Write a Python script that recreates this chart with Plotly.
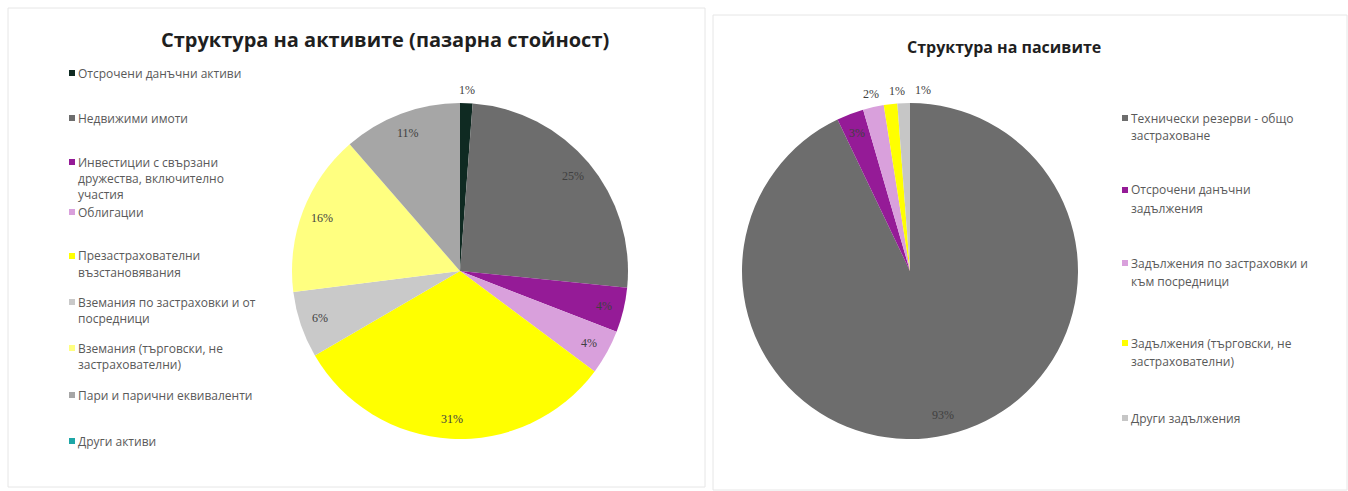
import math
import plotly.graph_objects as go

W, H = 1348, 491

# ---------------- data ----------------
assets_title = "Структура на активите (пазарна стойност)"
assets_labels = [
    "Отсрочени данъчни активи",
    "Недвижими имоти",
    "Инвестиции с свързани<br>дружества, включително<br>участия",
    "Облигации",
    "Презастрахователни<br>възстановявания",
    "Вземания по застраховки и от<br>посредници",
    "Вземания (търговски, не<br>застрахователни)",
    "Пари и парични еквиваленти",
    "Други активи",
]
assets_values = [1.2, 25.4, 4.3, 4.3, 31.4, 6.4, 15.6, 11.4, 0.0]
assets_colors = ["#0f2a22", "#6d6d6d", "#951b97", "#d9a0dc", "#ffff00",
                 "#c9c9c9", "#ffff80", "#a6a6a6", "#1ea6a6"]

liab_title = "Структура на пасивите"
liab_labels = [
    "Технически резерви - общо<br>застраховане",
    "Отсрочени данъчни<br>задължения",
    "Задължения по застраховки и<br>към посредници",
    "Задължения (търговски, не<br>застрахователни)",
    "Други задължения",
]
liab_values = [92.9, 2.6, 2.0, 1.3, 1.2]
liab_colors = ["#6d6d6d", "#951b97", "#d9a0dc", "#ffff00", "#c6c6c6"]

# ---------------- helpers ----------------
def px(x):
    return x / W

def py(y):
    return 1 - y / H

def domain(cx, cy, r):
    return dict(x=[px(cx - r), px(cx + r)], y=[py(cy + r), py(cy - r)])

FONT = "Open Sans"
LABEL_FONT = dict(family="Liberation Serif", size=12, color="#404040")
annotations = []
shapes = []

def add_pie(values, labels, colors, cx, cy, R):
    idx = [i for i, v in enumerate(values) if v > 0]
    vals = [values[i] for i in idx]
    fig.add_trace(go.Pie(
        labels=[labels[i] for i in idx],
        values=vals,
        marker=dict(colors=[colors[i] for i in idx], line=dict(width=0)),
        sort=False, direction="clockwise", rotation=0,
        domain=domain(cx, cy, R),
        textinfo="none",
        showlegend=False, hoverinfo="label+percent",
    ))
    # data labels placed from the cumulative shares
    total = sum(vals)
    cum = 0.0
    last_out_x = None
    for v in vals:
        frac = v / total
        mid = cum + frac / 2
        cum += frac
        th = 2 * math.pi * mid
        inside = frac >= 0.025
        r = 0.88 * R if inside else R + 13
        x = cx + r * math.sin(th)
        y = cy - r * math.cos(th)
        if not inside:
            if last_out_x is not None and x < last_out_x + 26:
                x = last_out_x + 26
            last_out_x = x
        annotations.append(dict(text=f"{round(frac * 100):.0f}%", x=px(x), y=py(y),
                                xref="paper", yref="paper", showarrow=False,
                                xanchor="center", yanchor="middle",
                                font=LABEL_FONT))

fig = go.Figure()
add_pie(assets_values, assets_labels, assets_colors, 460, 271, 168)
add_pie(liab_values, liab_labels, liab_colors, 910, 271, 168)

# panel borders
shapes.append(dict(type="rect", xref="paper", yref="paper",
                   x0=px(8), x1=px(705), y0=py(487), y1=py(8),
                   line=dict(color="#e6e6e6", width=1)))
shapes.append(dict(type="rect", xref="paper", yref="paper",
                   x0=px(713), x1=px(1347), y0=py(490), y1=py(15),
                   line=dict(color="#e6e6e6", width=1)))

# titles
annotations.append(dict(text="<b>" + assets_title + "</b>", x=px(385), y=py(40),
                        xref="paper", yref="paper", showarrow=False,
                        xanchor="center", yanchor="middle",
                        font=dict(family=FONT, size=20, color="#1f1f1f")))
annotations.append(dict(text="<b>" + liab_title + "</b>", x=px(1004), y=py(47),
                        xref="paper", yref="paper", showarrow=False,
                        xanchor="center", yanchor="middle",
                        font=dict(family=FONT, size=16, color="#1f1f1f")))

def legend(labels, colors, x_mark, x_text, ys, line_gap):
    for lab, col, y0 in zip(labels, colors, ys):
        shapes.append(dict(type="rect", xref="paper", yref="paper",
                           x0=px(x_mark), x1=px(x_mark + 6),
                           y0=py(y0 + 3), y1=py(y0 - 3),
                           fillcolor=col, line=dict(width=0)))
        for k, line in enumerate(lab.split("<br>")):
            annotations.append(dict(text=line, x=px(x_text), y=py(y0 + k * line_gap),
                                    xref="paper", yref="paper", showarrow=False,
                                    xanchor="left", yanchor="middle",
                                    borderpad=0,
                                    font=dict(family=FONT, size=12, color="#595959")))

legend(assets_labels, assets_colors, 69, 77,
       [73, 118, 162, 212, 256, 302, 348, 395, 441], 16)
legend(liab_labels, liab_colors, 1122, 1130,
       [118, 190, 263, 343, 418], 18)

fig.update_layout(
    width=W, height=H,
    margin=dict(l=0, r=0, t=0, b=0),
    paper_bgcolor="white", plot_bgcolor="white",
    annotations=annotations, shapes=shapes,
)

fig.write_html("out.html", config={"displayModeBar": False},
               post_script="document.body.style.margin='0';document.body.style.overflow='hidden';")
